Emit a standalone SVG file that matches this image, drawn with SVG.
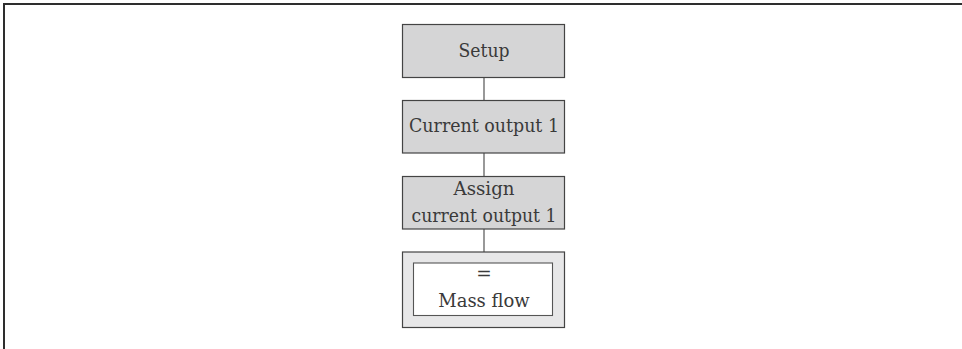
<svg xmlns="http://www.w3.org/2000/svg" width="962" height="349" viewBox="0 0 962 349">
<style>
.frame{fill:none;stroke:#2e2e2e;stroke-width:2}
.box{fill:#d5d5d6;stroke:#444;stroke-width:1.2}
.outer{fill:#e7e7e8;stroke:#444;stroke-width:1.2}
.inner{fill:#fff;stroke:#555;stroke-width:1.1}
.conn{stroke:#444;stroke-width:1.1;fill:none}
text{font-family:"DejaVu Serif","Liberation Serif",serif;font-size:18.5px;fill:#3a3a3a;text-anchor:middle}
</style>
<rect width="962" height="349" fill="#fff"/>
<path class="frame" d="M4,349 V4 H962"/>
<g id="connectors">
<line class="conn" x1="484" y1="77.5" x2="484" y2="100.5"/>
<line class="conn" x1="484" y1="153" x2="484" y2="176.5"/>
<line class="conn" x1="484" y1="229" x2="484" y2="252"/>
</g>
<g id="setup">
<rect class="box" x="402.5" y="24.5" width="162" height="53"/>
<text x="484" y="56.5" textLength="51" lengthAdjust="spacingAndGlyphs">Setup</text>
</g>
<g id="current-output-1">
<rect class="box" x="402.5" y="100.5" width="162" height="52.5"/>
<text x="484" y="132" textLength="150" lengthAdjust="spacingAndGlyphs">Current output 1</text>
</g>
<g id="assign">
<rect class="box" x="402.5" y="176.5" width="162" height="52.5"/>
<text x="484" y="195" textLength="61" lengthAdjust="spacingAndGlyphs">Assign</text>
<text x="484" y="221.5" textLength="145" lengthAdjust="spacingAndGlyphs">current output 1</text>
</g>
<g id="mass-flow">
<rect class="outer" x="402.5" y="252" width="162" height="75.5"/>
<rect class="inner" x="413.5" y="263" width="139" height="52.5"/>
<text x="484" y="279.5">=</text>
<text x="484" y="307" textLength="91.5" lengthAdjust="spacingAndGlyphs">Mass flow</text>
</g>
</svg>
